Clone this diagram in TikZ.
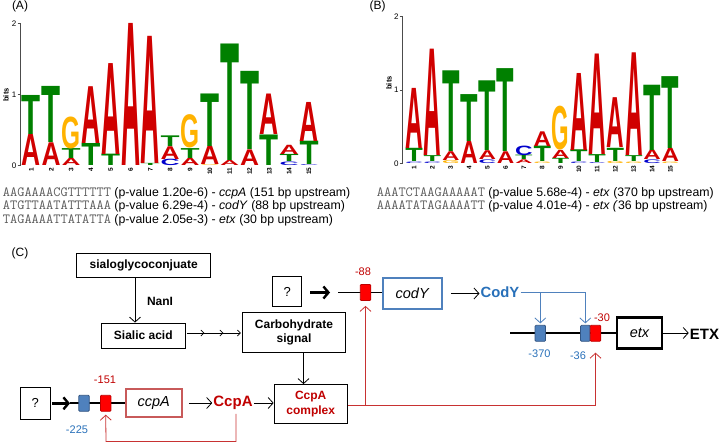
\documentclass[tikz,border=0pt]{standalone}
\usepackage{fontspec}
\setmainfont{Liberation Sans}
\usetikzlibrary{arrows.meta,calc}
\definecolor{lgA}{RGB}{208,0,0}
\definecolor{lgT}{RGB}{0,128,0}
\definecolor{lgG}{RGB}{255,178,0}
\definecolor{lgC}{RGB}{0,0,204}
\definecolor{seqgray}{RGB}{90,90,90}
\definecolor{dred}{RGB}{192,0,0}
\definecolor{lred}{RGB}{200,50,50}
\definecolor{siteRed}{RGB}{255,0,0}
\definecolor{siteRedD}{RGB}{190,0,0}
\definecolor{siteBlue}{RGB}{79,129,189}
\definecolor{siteBlueD}{RGB}{50,85,130}
\definecolor{ccpAc}{RGB}{200,90,90}
\definecolor{codYc}{RGB}{79,129,189}
\definecolor{bluetxt}{RGB}{40,112,185}
\definecolor{blueln}{RGB}{79,129,189}
\newcommand{\LA}{\color{lgA}A}
\newcommand{\LT}{\color{lgT}T}
\newcommand{\LG}{\color{lgG}G}
\newcommand{\LC}{\color{lgC}C}
\newcommand{\fsz}[1]{\fontsize{#1}{#1}\selectfont}
\begin{document}
\begin{tikzpicture}[x=1pt,y=-1pt,
  axisln/.style={line width=0.6pt, black!70},
  cbox/.style={draw=black, line width=0.8pt, fill=white, font=\bfseries\fontsize{12}{14}\selectfont, align=center, inner sep=0pt},
  qbox/.style={draw=black, line width=0.8pt, fill=white, font=\fsz{13}, inner sep=0pt},
  genebox/.style={line width=2.2pt, fill=white, font=\itshape\fsz{14.5}, inner sep=0pt},
  redsite/.style={draw=siteRedD, fill=siteRed, line width=0.8pt, rounded corners=1pt, minimum width=10.5pt, minimum height=16pt, inner sep=0pt},
  bluesite/.style={draw=siteBlueD, fill=siteBlue, line width=0.8pt, rounded corners=1pt, minimum width=10.5pt, minimum height=16pt, inner sep=0pt},
  arr/.style={-{Straight Barb[length=5pt,width=11pt]}, line width=0.8pt},
  smallarr/.style={-{Straight Barb[length=3pt,width=6pt]}, line width=0.7pt},
  thickarr/.style={-{Straight Barb[length=5pt,width=12pt,line width=2.4pt]}, line width=2.6pt},
  redarr/.style={-{Straight Barb[length=5pt,width=11pt]}, line width=0.8pt, lred},
  bluearr/.style={-{Straight Barb[length=5pt,width=11pt]}, line width=0.8pt, blueln},
  dna/.style={line width=1.7pt, black},
  sitelbl/.style={font=\fsz{11}, inner sep=0pt},
  txtline/.style={anchor=west, inner sep=0pt, font=\fsz{12.3}}
]
\useasboundingbox (0,0) rectangle (720,444);

% ---------------- panel labels
\node[font=\fsz{12}, inner sep=0pt] (labA) at (20,6.5) {(A)};
\node[font=\fsz{12}, inner sep=0pt] (labB) at (377.5,6.5) {(B)};
\node[font=\fsz{12}, inner sep=0pt] (labC) at (20,253) {(C)};

% ---------------- logo A
\def\xo{21.5}\def\colw{19.83}\def\ybase{165.5}\def\bitpx{71}
\draw[axisln] (20.5,23.5) -- (20.5,165.5);
\foreach \v/\yy in {0/165.5,1/94.5,2/23.5}{
  \draw[axisln] (17.5,\yy) -- (20.5,\yy);
  \node[font=\fsz{8}, anchor=east, inner sep=1pt] (tA\v) at (17.5,\yy) {\v};
}
\node[rotate=90, font=\bfseries\fsz{7.5}, inner sep=0pt] (bitsA) at (6,95) {bits};
\foreach \col/\lo/\hi/\ltr in {
 1/0/0.44/A, 1/0.44/0.99/T,
 2/0/0.32/A, 2/0.32/1.11/T,
 3/0/0.10/A, 3/0.10/0.24/T, 3/0.24/0.69/G,
 4/0/0.31/T, 4/0.31/1.11/A,
 5/0/0.16/T, 5/0.16/1.44/A,
 6/0/2.0/A,
 7/0/0.03/T, 7/0.03/1.82/A,
 8/0/0.09/C, 8/0.09/0.27/A, 8/0.27/0.42/T,
 9/0/0.10/A, 9/0.10/0.24/T, 9/0.24/0.71/G,
 10/0/0.012/G, 10/0.012/0.27/A, 10/0.27/1.01/T,
 11/0/0.07/A, 11/0.07/1.71/T,
 12/0/0.22/A, 12/0.22/1.32/T,
 13/0/0.43/T, 13/0.43/1.0/A,
 14/0/0.05/C, 14/0.05/0.15/T, 14/0.15/0.28/A,
 15/0/0.012/C, 15/0.012/0.34/T, 15/0.34/0.89/A}{
 \pgfmathsetmacro{\lx}{\xo+(\col-1)*\colw+0.4}
 \pgfmathsetmacro{\ly}{\ybase-\lo*\bitpx}
 \pgfmathsetmacro{\lh}{(\hi-\lo)*\bitpx}
 \pgfmathsetmacro{\lw}{\colw-0.8}
 \node[anchor=south west, inner sep=0pt, outer sep=0pt] (LgA\col\ltr) at (\lx,\ly)
   {\resizebox*{\lw pt}{\lh pt}{\bfseries\csname L\ltr\endcsname}};
}
\foreach \col in {1,...,15}{
 \node[rotate=90, anchor=east, font=\bfseries\fsz{6.5}, inner sep=0.5pt] (nA\col) at ({\xo+(\col-0.5)*\colw},167) {\col};
}

% ---------------- logo B
\def\xo{405}\def\colw{18.3}\def\ybase{163.3}\def\bitpx{73.3}
\draw[axisln] (402.7,16.7) -- (402.7,163.3);
\foreach \v/\yy in {0/163.3,1/90,2/16.7}{
  \draw[axisln] (399.7,\yy) -- (402.7,\yy);
  \node[font=\fsz{8}, anchor=east, inner sep=1pt] (tB\v) at (399.7,\yy) {\v};
}
\node[rotate=90, font=\bfseries\fsz{7.5}, inner sep=0pt] (bitsB) at (389,83) {bits};
\foreach \col/\lo/\hi/\ltr in {
 1/0/0.02/C, 1/0.02/0.2/T, 1/0.2/1.02/A,
 2/0/0.02/C, 2/0.02/0.1/T, 2/0.1/1.55/A,
 3/0/0.04/G, 3/0.04/0.16/A, 3/0.16/1.26/T,
 4/0/0.3/A, 4/0.3/0.94/T,
 5/0/0.05/C, 5/0.05/0.17/A, 5/0.17/1.12/T,
 6/0/0.16/A, 6/0.16/1.29/T,
 7/0/0.05/A, 7/0.05/0.11/T, 7/0.11/0.24/C,
 8/0/0.02/G, 8/0.02/0.23/T, 8/0.23/0.43/A,
 9/0/0.07/T, 9/0.07/0.18/A, 9/0.18/0.78/G,
 10/0/0.02/C, 10/0.02/0.18/T, 10/0.18/1.23/A,
 11/0/0.012/C, 11/0.012/0.12/T, 11/0.12/1.49/A,
 12/0/0.03/G, 12/0.03/0.21/T, 12/0.21/0.89/A,
 13/0/0.02/G, 13/0.02/0.1/T, 13/0.1/1.5/A,
 14/0/0.05/C, 14/0.05/0.18/A, 14/0.18/1.07/T,
 15/0/0.02/G, 15/0.02/0.2/A, 15/0.2/1.18/T}{
 \pgfmathsetmacro{\lx}{\xo+(\col-1)*\colw+0.4}
 \pgfmathsetmacro{\ly}{\ybase-\lo*\bitpx}
 \pgfmathsetmacro{\lh}{(\hi-\lo)*\bitpx}
 \pgfmathsetmacro{\lw}{\colw-0.8}
 \node[anchor=south west, inner sep=0pt, outer sep=0pt] (LgB\col\ltr) at (\lx,\ly)
   {\resizebox*{\lw pt}{\lh pt}{\bfseries\csname L\ltr\endcsname}};
}
\foreach \col in {1,...,15}{
 \node[rotate=90, anchor=east, font=\bfseries\fsz{6.5}, inner sep=0.5pt] (nB\col) at ({\xo+(\col-0.5)*\colw},165) {\col};
}

% ---------------- sequence lines
\node[txtline] (sA1) at (2.7,193) {{\ttfamily\fsz{14}\color{seqgray}AAGAAAACGTTTTTT} (p-value 1.20e-6) - \textit{ccpA} (151 bp upstream)};
\node[txtline] (sA2) at (2.7,206.5) {{\ttfamily\fsz{14}\color{seqgray}ATGTTAATATTTAAA} (p-value 6.29e-4) - \textit{codY} (88 bp upstream)};
\node[txtline] (sA3) at (2.7,220) {{\ttfamily\fsz{14}\color{seqgray}TAGAAAATTATATTA} (p-value 2.05e-3) - \textit{etx} (30 bp upstream)};
\node[txtline] (sB1) at (376.7,193) {{\ttfamily\fsz{14}\color{seqgray}AAATCTAAGAAAAAT} (p-value 5.68e-4) - \textit{etx} (370 bp upstream)};
\node[txtline] (sB2) at (376.7,206.5) {{\ttfamily\fsz{14}\color{seqgray}AAAATATAGAAAATT} (p-value 4.01e-4) - \textit{etx (}36 bp upstream)};

% ---------------- panel C: pathway boxes
\node[cbox, minimum width=134pt, minimum height=24pt] (sialo) at (143.7,265.5) {sialoglycoconjuate};
\node[cbox, minimum width=83.3pt, minimum height=25pt] (sialic) at (143.3,335.5) {Sialic acid};
\node[cbox, minimum width=102.3pt, minimum height=40pt, font=\bfseries\fontsize{12}{14}\selectfont] (carb) at (294,332) {Carbohydrate\\signal};
\node[cbox, text=dred, minimum width=73.3pt, minimum height=39pt, font=\bfseries\fontsize{12}{14.5}\selectfont] (cplx) at (310.7,404) {CcpA\\complex};

\draw[arr] ([xshift=-8.7pt]sialo.south) -- ([xshift=-8.3pt]sialic.north);
\node[font=\bfseries\fsz{12}, inner sep=0pt] (nanl) at (160,301) {NanI};

\path (sialic.east |- 0,333) coordinate (d0) (carb.west |- 0,333) coordinate (d3);
\coordinate (d1) at ($(d0)!0.3333!(d3)$);
\coordinate (d2) at ($(d0)!0.6667!(d3)$);
\draw[smallarr] ([xshift=1.5pt]d0) -- (d1);
\draw[smallarr] (d1) -- (d2);
\draw[smallarr] (d2) -- ([xshift=-1.5pt]d3);

\draw[arr] ([xshift=9.5pt]carb.south) -- ([xshift=9.5pt]carb.south |- cplx.north);

% ---------------- ccpA gene row
\node[qbox, minimum width=29.3pt, minimum height=32pt] (q1) at (35.3,403.3) {?};
\node[genebox, draw=ccpAc, minimum width=55.7pt, minimum height=28.5pt] (ccpA) at (153.8,403) {ccpA};
\coordinate (p1s) at (70,403.3);
\draw[dna] (p1s) -- (ccpA.west |- p1s);
\draw[thickarr] ([xshift=2pt]q1.east) -- (p1s);
\node[bluesite] (b225) at (84,403.3) {};
\node[redsite] (r151) at (105.7,403.3) {};
\node[sitelbl, text=dred] (l151) at (105,380) {-151};
\node[sitelbl, text=bluetxt] (l225) at (77,430) {-225};

\node[font=\bfseries\fsz{15}, text=dred, inner sep=1pt] (CcpAt) at (233,403) {CcpA};
\draw[arr] ([xshift=6pt]ccpA.east) -- (CcpAt.west);
\draw[arr] (CcpAt.east) -- (cplx.west |- CcpAt.east);
\draw[redarr] ([xshift=3pt,yshift=-3pt]CcpAt.south) |- (106,441.5) -- ([yshift=-3pt]r151.south);

% ---------------- codY gene row
\node[qbox, minimum width=29pt, minimum height=30.7pt] (q2) at (287.2,291.5) {?};
\node[genebox, draw=codYc, minimum width=59pt, minimum height=31pt] (codY) at (412.2,293.5) {codY};
\coordinate (p2a) at (330,292.5);
\coordinate (p2s) at (338,292.5);
\draw[thickarr] ([xshift=8pt]q2.east |- p2a) -- (p2a);
\draw[dna] (p2s) -- (codY.west |- p2s);
\node[redsite] (r88) at (365.5,292.5) {};
\node[sitelbl, text=dred] (l88) at (363,272) {-88};
\node[font=\bfseries\fsz{14.8}, text=bluetxt, inner sep=1pt] (CodYt) at (500,292) {CodY};
\draw[arr] ([xshift=8pt]codY.east) -- (CodYt.west |- codY.east);

% ---------------- etx gene row
\node[genebox, draw=black, minimum width=44.4pt, minimum height=31pt] (etx) at (639.5,333) {etx};
\coordinate (p3s) at (510,333.3);
\draw[dna] (p3s) -- (etx.west |- p3s);
\node[bluesite] (b370) at (540.3,333.3) {};
\node[bluesite, minimum width=9.5pt] (b36) at (585.3,333.3) {};
\node[redsite] (r30) at (595.5,333.3) {};
\node[sitelbl, text=bluetxt] (l370) at (539.5,354) {-370};
\node[sitelbl, text=bluetxt] (l36) at (578,356) {-36};
\node[sitelbl, text=dred] (l30) at (602,318) {-30};
\node[font=\bfseries\fsz{15}, inner sep=1pt] (ETXt) at (704.5,334) {ETX};
\draw[arr] (etx.east) -- (ETXt.west |- etx.east);

% CodY regulation
\draw[bluearr, shorten >=1.5pt] (CodYt.east) -| (b36.north);
\draw[bluearr, shorten >=1.5pt] (b370.north |- CodYt.east) -- (b370.north);

% CcpA complex regulation
\coordinate (rj) at ($(cplx.east)+(0,1)$);
\draw[redarr] (rj) -| ([yshift=-11pt]r30.south);
\draw[redarr] (r88.south |- rj) -- ([yshift=-5pt]r88.south);
\end{tikzpicture}
\end{document}
